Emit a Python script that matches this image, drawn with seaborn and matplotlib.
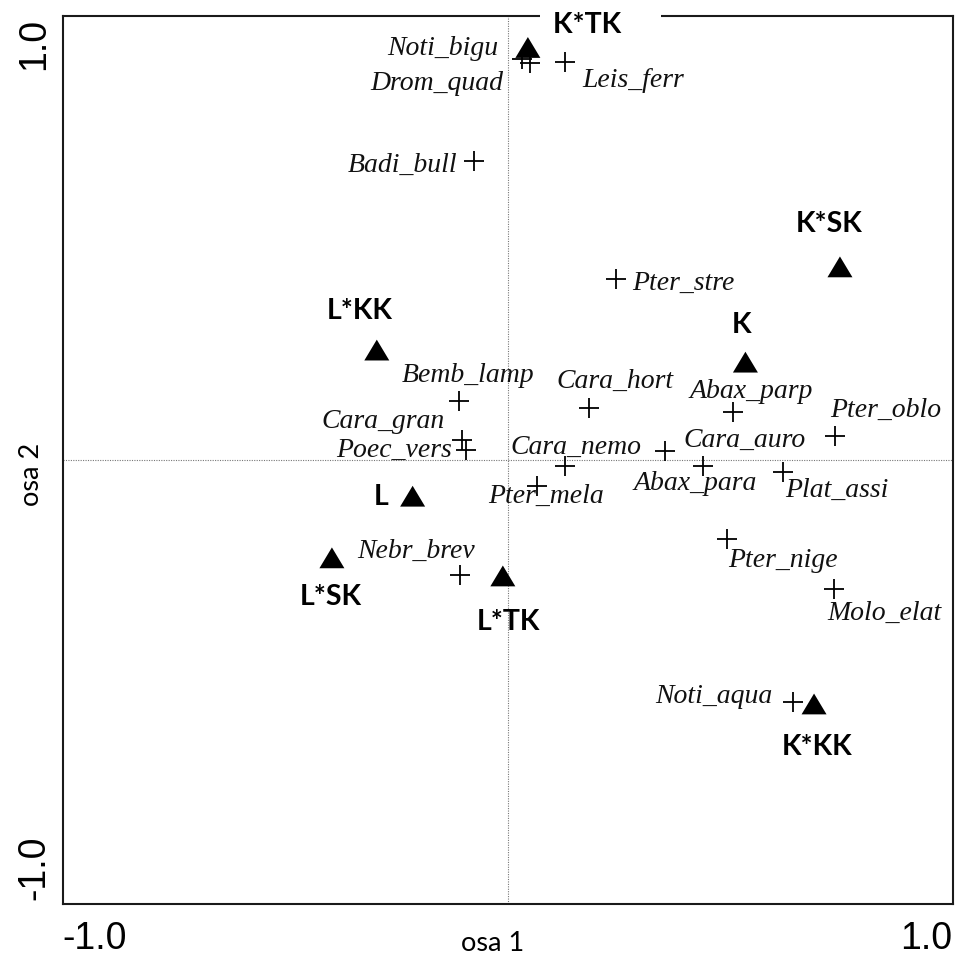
import matplotlib
matplotlib.use("Agg")
import matplotlib.pyplot as plt
from matplotlib.transforms import ScaledTranslation
import seaborn as sns
import pandas as pd

# Species scores on the first two ordination axes
species = ["Noti_bigu", "Drom_quad", "Leis_ferr", "Badi_bull", "Pter_stre",
           "Bemb_lamp", "Cara_hort", "Abax_parp", "Pter_oblo", "Cara_gran",
           "Poec_vers", "Cara_nemo", "Cara_auro", "Pter_mela", "Abax_para",
           "Plat_assi", "Pter_nige", "Molo_elat", "Noti_aqua", "Nebr_brev"]
species_x = [0.031, 0.050, 0.131, -0.080, 0.249, -0.115, 0.187, 0.520, 0.757, -0.108,
             -0.098, 0.131, 0.363, 0.066, 0.451, 0.636, 0.506, 0.754, 0.659, -0.112]
species_y = [0.930, 0.921, 0.923, 0.694, 0.420, 0.137, 0.121, 0.111, 0.056, 0.046,
             0.023, -0.014, 0.021, -0.060, -0.014, -0.028, -0.183, -0.299, -0.561, -0.267]

# Centroids of the treatment classes
groups = ["K*TK", "K*SK", "K", "L*KK", "L", "L*SK", "L*TK", "K*KK"]
group_x = [0.045, 0.768, 0.549, -0.305, -0.222, -0.409, -0.013, 0.708]
group_y = [0.957, 0.448, 0.227, 0.255, -0.084, -0.227, -0.269, -0.566]

axis_ticks = [-1.0, -0.5, 0.0, 0.5, 1.0]
axis_tick_labels = ["-1.0", "", "", "", "1.0"]

# Label placement: (horizontal alignment, dx, dy) in pixels, dy downward
species_label_layout = {
    "Noti_bigu": ("right", -24, -4),
    "Drom_quad": ("right", -27, 27),
    "Leis_ferr": ("left", 17, 25),
    "Badi_bull": ("right", -17, 11),
    "Pter_stre": ("left", 16, 11),
    "Bemb_lamp": ("left", -57, -19),
    "Cara_hort": ("left", -33, -20),
    "Abax_parp": ("left", -43, -14),
    "Pter_oblo": ("left", -5, -19),
    "Cara_gran": ("right", -17, -12),
    "Poec_vers": ("right", -14, 7),
    "Cara_nemo": ("left", -55, -12),
    "Cara_auro": ("left", 18, -4),
    "Pter_mela": ("left", -49, 17),
    "Abax_para": ("right", 54, 24),
    "Plat_assi": ("left", 2, 25),
    "Pter_nige": ("left", 1, 28),
    "Molo_elat": ("left", -7, 31),
    "Noti_aqua": ("right", -20, 1),
    "Nebr_brev": ("right", 15, -17),
}
group_label_layout = {
    "K*TK": ("left", 25, -14.5),
    "K*SK": ("center", -11, -35),
    "K": ("center", -3.5, -29),
    "L*KK": ("center", -17.5, -31),
    "L": ("center", -31.5, 9),
    "L*SK": ("center", -1, 47),
    "L*TK": ("center", 5.5, 54),
    "K*KK": ("center", 3, 51),
}

PX = 72 / 100  # pixels -> points at 100 dpi

sns.set_style("white")
plt.rcParams["font.family"] = ["Liberation Sans", "DejaVu Sans"]
plt.rcParams["text.color"] = "black"
plt.rcParams["axes.labelcolor"] = "black"

sp = pd.DataFrame({"name": species, "x": species_x, "y": species_y})
gr = pd.DataFrame({"name": groups, "x": group_x, "y": group_y})

fig = plt.figure(figsize=(9.56, 9.58), dpi=100)
ax = fig.add_axes([0.0659, 0.0564, 0.9310, 0.9269])

# zero lines
ax.axhline(0, color="#777777", lw=0.8, ls=(0, (1, 1.2)), zorder=1)
ax.axvline(0, color="#777777", lw=0.8, ls=(0, (1, 1.2)), zorder=1)

tri = [(-1.2, -1.0), (1.2, -1.0), (0.0, 1.0)]
sns.scatterplot(data=gr, x="x", y="y", marker=tri, s=18 ** 2, color="black",
                edgecolor="none", legend=False, ax=ax, zorder=3)
sns.scatterplot(data=sp, x="x", y="y", marker="+", s=14.4 ** 2, color="black",
                linewidth=1.3, legend=False, ax=ax, zorder=4)

for name, x, y in zip(species, species_x, species_y):
    ha, dx, dy = species_label_layout[name]
    ax.annotate(name, (x, y), xytext=(dx * PX, -dy * PX), textcoords="offset points",
                ha=ha, va="baseline", fontsize=20, fontstyle="italic",
                family=["Liberation Serif", "DejaVu Serif"], color="#111111", zorder=5)

for name, x, y in zip(groups, group_x, group_y):
    ha, dx, dy = group_label_layout[name]
    kw = {}
    text = name
    if name == "K*TK":
        text = name + "    "
        kw["bbox"] = dict(boxstyle="square,pad=0.45", fc="white", ec="none")
    ax.annotate(text, (x, y), xytext=(dx * PX, -dy * PX), textcoords="offset points",
                ha=ha, va="baseline", fontsize=20.5, fontweight="bold",
                family=["Lato", "DejaVu Sans"], color="black", zorder=10,
                annotation_clip=False, **kw)

ax.set_xlim(-1.032, 1.030)
ax.set_ylim(-1.030, 1.030)
ax.set_xticks(axis_ticks)
ax.set_yticks(axis_ticks)
ax.set_xticklabels(axis_tick_labels, fontsize=27)
ax.set_yticklabels(axis_tick_labels, fontsize=27, rotation=90)
ax.tick_params(axis="both", direction="inout", length=7, width=1.2,
               colors="black", labelcolor="black")
ax.tick_params(axis="x", pad=9)
ax.tick_params(axis="y", pad=4)

for spine in ax.spines.values():
    spine.set_color("#1a1a1a")
    spine.set_linewidth(1.5)
    spine.set_zorder(6)

ax.set_xlabel("osa 1", fontsize=19.5, family=["Lato", "DejaVu Sans"], color="black")
ax.set_ylabel("osa 2", fontsize=19.5, family=["Lato", "DejaVu Sans"], color="black")
ax.xaxis.set_label_coords(0.483, -0.031)
ax.yaxis.set_label_coords(-0.021, 0.484)

# keep the end labels inside the frame extent
xl = ax.get_xticklabels()
xl[0].set_ha("left")
xl[0].set_transform(xl[0].get_transform() + ScaledTranslation(-14 / 100, 0, fig.dpi_scale_trans))
xl[-1].set_ha("right")
xl[-1].set_transform(xl[-1].get_transform() + ScaledTranslation(12 / 100, 0, fig.dpi_scale_trans))
yl = ax.get_yticklabels()
yl[0].set_va("bottom")
yl[0].set_transform(yl[0].get_transform() + ScaledTranslation(0, -9 / 100, fig.dpi_scale_trans))
yl[-1].set_va("top")
yl[-1].set_transform(yl[-1].get_transform() + ScaledTranslation(0, 11 / 100, fig.dpi_scale_trans))

fig.savefig("out.png", dpi=100, facecolor="white")
